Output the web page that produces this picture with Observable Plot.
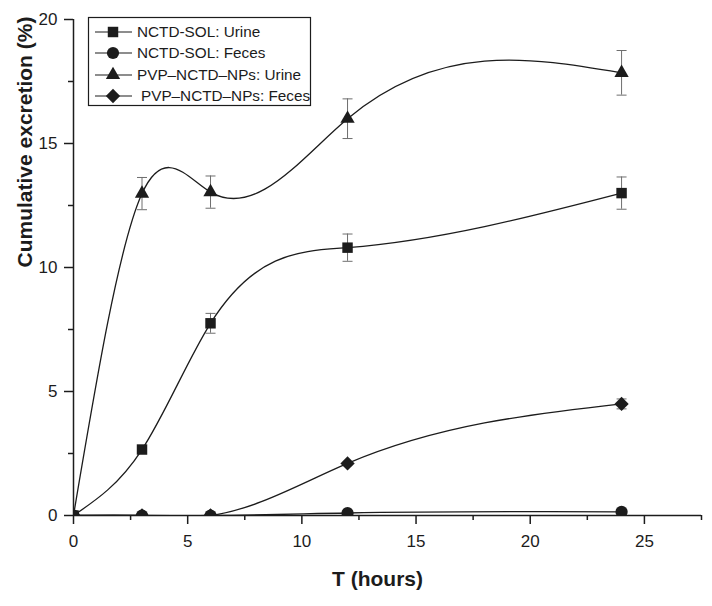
<!DOCTYPE html>
<html>
<head>
<meta charset="utf-8">
<script src="https://cdn.jsdelivr.net/npm/d3@7"></script>
<script src="https://cdn.jsdelivr.net/npm/@observablehq/plot@0.6"></script>
<style>
  html, body { margin: 0; padding: 0; background: #fff; }
  #chart svg { display: block; }
</style>
</head>
<body>
<div id="chart"></div>
<script>
// ---- data ----
const times = [0, 3, 6, 12, 24];
const seriesNames = ["NCTD-SOL: Urine", "NCTD-SOL: Feces", "PVP–NCTD–NPs: Urine", "PVP–NCTD–NPs: Feces"];
const solUrine = [0, 2.66, 7.75, 10.8, 13.0];
const solUrineErr = [0, 0.1, 0.4, 0.55, 0.65];
const solFeces = [0, 0, 0, 0.1, 0.15];
const solFecesErr = [0, 0, 0, 0, 0];
const npUrine = [0, 12.98, 13.04, 16.0, 17.85];
const npUrineErr = [0, 0.65, 0.65, 0.8, 0.9];
const npFeces = [0, 0, 0, 2.1, 4.5];
const npFecesErr = [0, 0, 0, 0.05, 0.2];
const xTicks = [0, 5, 10, 15, 20, 25];
const xMinorTicks = [2.5, 7.5, 12.5, 17.5, 22.5, 27.5];
const yTicks = [0, 5, 10, 15, 20];
const yMinorTicks = [2.5, 7.5, 12.5, 17.5];
const xTitle = "T (hours)";
const yTitle = "Cumulative excretion (%)";

const valueSets = [solUrine, solFeces, npUrine, npFeces];
const errorSets = [solUrineErr, solFecesErr, npUrineErr, npFecesErr];
const rows = [];
seriesNames.forEach((s, k) => times.forEach((t, i) =>
  rows.push({series: s, k, t, v: valueSets[k][i], e: errorSets[k][i]})));
const errRows = rows.filter(d => d.e > 0);

// ---- natural cubic spline in x (like Origin's spline connection) ----
function splineX(context) {
  let xs, ys;
  return {
    areaStart() {}, areaEnd() {},
    lineStart() { xs = []; ys = []; },
    point(x, y) { xs.push(+x); ys.push(+y); },
    lineEnd() {
      const n = xs.length;
      if (!n) return;
      context.moveTo(xs[0], ys[0]);
      if (n === 1) return;
      if (n === 2) { context.lineTo(xs[1], ys[1]); return; }
      const h = [];
      for (let i = 0; i < n - 1; i++) h[i] = xs[i + 1] - xs[i];
      const M = new Array(n).fill(0);
      const m = n - 2, a = [], b = [], c = [], r = [];
      for (let i = 1; i <= n - 2; i++) {
        a.push(h[i - 1]); b.push(2 * (h[i - 1] + h[i])); c.push(h[i]);
        r.push(6 * ((ys[i + 1] - ys[i]) / h[i] - (ys[i] - ys[i - 1]) / h[i - 1]));
      }
      for (let i = 1; i < m; i++) {
        const w = a[i] / b[i - 1];
        b[i] -= w * c[i - 1];
        r[i] -= w * r[i - 1];
      }
      const sol = new Array(m);
      sol[m - 1] = r[m - 1] / b[m - 1];
      for (let i = m - 2; i >= 0; i--) sol[i] = (r[i] - c[i] * sol[i + 1]) / b[i];
      for (let i = 0; i < m; i++) M[i + 1] = sol[i];
      for (let i = 0; i < n - 1; i++) {
        const hi = h[i], d = (ys[i + 1] - ys[i]) / hi;
        const m0 = d - hi * (2 * M[i] + M[i + 1]) / 6;
        const m1 = d + hi * (M[i] + 2 * M[i + 1]) / 6;
        context.bezierCurveTo(xs[i] + hi / 3, ys[i] + m0 * hi / 3,
                              xs[i + 1] - hi / 3, ys[i + 1] - m1 * hi / 3,
                              xs[i + 1], ys[i + 1]);
      }
    }
  };
}

// ---- custom symbols ----
const diamond = {draw(ctx, size) { const s = Math.sqrt(size / 2);
  ctx.moveTo(0, -s); ctx.lineTo(s, 0); ctx.lineTo(0, s); ctx.lineTo(-s, 0); ctx.closePath(); }};
const cap = {draw(ctx) { ctx.moveTo(-5, 0); ctx.lineTo(5, 0); }};
const symbols = ["square", "circle", "triangle", diamond];
const radii = [5.9, 6.1, 5.3, 5.7];

const ink = "#1c1c1c";
const marks = [
  // error bars
  Plot.ruleX(errRows, {x: "t", y1: d => d.v - d.e, y2: d => d.v + d.e, stroke: "#6e6e6e", strokeWidth: 1, clip: true}),
  Plot.dot(errRows, {x: "t", y: d => d.v + d.e, symbol: cap, stroke: "#6e6e6e", strokeWidth: 1, fill: "none", r: 3}),
  Plot.dot(errRows, {x: "t", y: d => d.v - d.e, symbol: cap, stroke: "#6e6e6e", strokeWidth: 1, fill: "none", r: 3, clip: true}),
  // lines
  Plot.line(rows, {x: "t", y: "v", z: "series", curve: splineX, stroke: ink, strokeWidth: 1.3, clip: true}),
];
seriesNames.forEach((s, k) => {
  marks.push(Plot.dot(rows.filter(d => d.k === k), {x: "t", y: "v", symbol: symbols[k], r: radii[k], fill: ink, stroke: "none", clip: true}));
});
marks.push(
  Plot.ruleY([0], {stroke: ink, strokeWidth: 1.5}),
  Plot.ruleX([0], {stroke: ink, strokeWidth: 1.5}),
  Plot.axisX(xTicks, {tickSize: 9, tickPadding: 10, fontSize: 17, stroke: ink, strokeWidth: 1.5, label: null}),
  Plot.axisX(xMinorTicks, {tickSize: 5, tickFormat: () => "", stroke: ink, strokeWidth: 1.5, label: null}),
  Plot.axisY(yTicks, {tickSize: 9, tickPadding: 7, fontSize: 17, stroke: ink, strokeWidth: 1.5, label: null}),
  Plot.axisY(yMinorTicks, {tickSize: 5, tickFormat: () => "", stroke: ink, strokeWidth: 1.5, label: null}),
  Plot.text([xTitle], {frameAnchor: "bottom", dy: 70, dx: -10, text: d => d, fontSize: 21, fontWeight: "bold", fill: ink}),
  Plot.text([yTitle], {frameAnchor: "left", dx: -48, rotate: -90, text: d => d, fontSize: 21, fontWeight: "bold", fill: ink})
);

const chart = Plot.plot({
  width: 712,
  height: 606,
  marginLeft: 73,
  marginRight: 11,
  marginTop: 19,
  marginBottom: 91,
  style: {fontFamily: "'Liberation Sans', Arial, Helvetica, sans-serif", color: ink, background: "#fff"},
  x: {domain: [0, 27.5], label: null},
  y: {domain: [0, 20], label: null},
  marks
});
document.getElementById("chart").appendChild(chart);

// ---- legend box (upper left, inside the frame) ----
const svg = d3.select(chart);
const lg = svg.append("g")
  .attr("font-family", "'Liberation Sans', Arial, Helvetica, sans-serif")
  .attr("text-anchor", "start");
lg.append("rect").attr("x", 88.5).attr("y", 17.5).attr("width", 222).attr("height", 88)
  .attr("fill", "#fff").attr("stroke", ink).attr("stroke-width", 1.2);
const legendY = [32, 53, 75, 96];
const legendSym = [d3.symbolSquare, d3.symbolCircle, d3.symbolTriangle, null];
seriesNames.forEach((s, k) => {
  const y = legendY[k];
  lg.append("line").attr("x1", 95).attr("x2", 132).attr("y1", y).attr("y2", y)
    .attr("stroke", ink).attr("stroke-width", 1.2);
  const size = Math.PI * radii[k] * radii[k];
  const path = d3.path();
  if (k === 3) diamond.draw(path, size);
  else d3.symbol(legendSym[k], size).context(path)();
  lg.append("path").attr("d", path.toString()).attr("transform", `translate(113,${y})`).attr("fill", ink);
  lg.append("text").attr("x", k === 3 ? 141 : 137).attr("y", y).attr("dy", "0.35em")
    .attr("text-anchor", "start").attr("font-size", 15.3).attr("fill", ink).text(s);
});
</script>
</body>
</html>
